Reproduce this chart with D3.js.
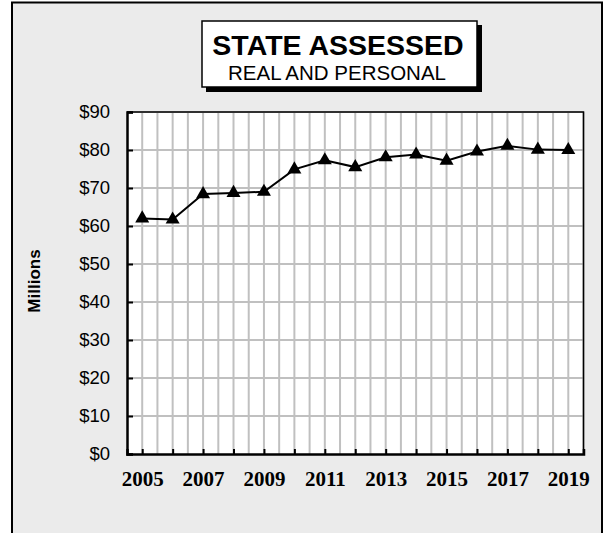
<!DOCTYPE html>
<html><head><meta charset="utf-8">
<script src="https://cdn.jsdelivr.net/npm/d3@7"></script>
<style>body{margin:0;background:#fff;}svg{display:block;}</style>
</head><body>
<script>
const years = [2005,2006,2007,2008,2009,2010,2011,2012,2013,2014,2015,2016,2017,2018,2019];
const values = [62.0,61.7,68.4,68.7,69.0,74.9,77.3,75.5,78.1,78.8,77.2,79.6,81.1,80.1,80.0];
const yTicks = [0,10,20,30,40,50,60,70,80,90];
const xLabelYears = [2005,2007,2009,2011,2013,2015,2017,2019];
const titleMain = "STATE ASSESSED";
const titleSub = "REAL AND PERSONAL";
const yTitle = "Millions";

const W=605,H=533;
const svg=d3.select("body").append("svg").attr("width",W).attr("height",H);
// outer frame
svg.append("rect").attr("x",12).attr("y",2.5).attr("width",590).attr("height",560)
  .attr("fill","#ebebeb").attr("stroke","#000").attr("stroke-width",2);

const L=127,R=583.5,T=112,B=454;
const x=d3.scaleLinear().domain([2004.5,2019.5]).range([L,R]);
const y=d3.scaleLinear().domain([0,90]).range([B,T]);

svg.append("rect").attr("x",L).attr("y",T).attr("width",R-L).attr("height",B-T).attr("fill","#fff");
// grid
const halfYears=d3.range(2005,2019.51,0.5);
svg.append("g").selectAll("line").data(halfYears).join("line")
  .attr("x1",d=>x(d)).attr("x2",d=>x(d)).attr("y1",T).attr("y2",B)
  .attr("stroke","#c0c0c0").attr("stroke-width",2);
svg.append("g").selectAll("line").data(yTicks.slice(1)).join("line")
  .attr("x1",L).attr("x2",R).attr("y1",d=>y(d)).attr("y2",d=>y(d))
  .attr("stroke","#c0c0c0").attr("stroke-width",2);
// border top/right
svg.append("path").attr("d",`M${L},${T}H${R}V${B}`).attr("fill","none").attr("stroke","#000").attr("stroke-width",1.5);

// y axis
const yAxis=d3.axisLeft(y).tickValues(yTicks).tickSize(-6).tickPadding(17).tickFormat(d=>"$"+d);
const gy=svg.append("g").attr("transform",`translate(${L},0)`).call(yAxis);
gy.select(".domain").attr("stroke","#000").attr("stroke-width",2.5);
gy.selectAll(".tick line").attr("stroke","#000").attr("stroke-width",2);
gy.selectAll("text").attr("font-family","Liberation Sans, Arial, sans-serif").attr("font-size",18.5).attr("fill","#000");

// x axis
const xAxis=d3.axisBottom(x).tickValues(years).tickSize(-5).tickPadding(0).tickFormat(d=>xLabelYears.includes(d)?String(d):"");
const gx=svg.append("g").attr("transform",`translate(0,${B})`).call(xAxis);
gx.select(".domain").attr("stroke","#000").attr("stroke-width",2.5);
gx.selectAll(".tick line").attr("stroke","#000").attr("stroke-width",2);
gx.selectAll("text").attr("font-family","Liberation Serif, Times New Roman, serif").attr("font-weight","bold")
  .attr("font-size",21).attr("fill","#000").attr("dy","1.5em");

// y title
svg.append("text").attr("transform","translate(40,281) rotate(-90)").attr("text-anchor","middle")
  .attr("font-family","Liberation Sans, Arial, sans-serif").attr("font-weight","bold").attr("font-size",17).text(yTitle);

// line
const line=d3.line().x((d,i)=>x(years[i])).y(d=>y(d));
svg.append("path").datum(values).attr("d",line).attr("fill","none").attr("stroke","#000").attr("stroke-width",2);
const tri=d3.symbol().type(d3.symbolTriangle).size(85);
svg.append("g").selectAll("path").data(values).join("path")
  .attr("transform",(d,i)=>`translate(${x(years[i])},${y(d)})`).attr("d",tri).attr("fill","#000");

// title box
svg.append("rect").attr("x",206).attr("y",25).attr("width",276).attr("height",67).attr("fill","#000");
svg.append("rect").attr("x",202).attr("y",21).attr("width",275).attr("height",66).attr("fill","#fff").attr("stroke","#000").attr("stroke-width",1.5);
svg.append("text").attr("x",338).attr("y",55).attr("text-anchor","middle")
  .attr("font-family","Liberation Sans, Arial, sans-serif").attr("font-weight","bold").attr("font-size",28.5).text(titleMain);
svg.append("text").attr("x",337).attr("y",80).attr("text-anchor","middle")
  .attr("font-family","Liberation Sans, Arial, sans-serif").attr("font-size",20.5).text(titleSub);
</script>
</body></html>
